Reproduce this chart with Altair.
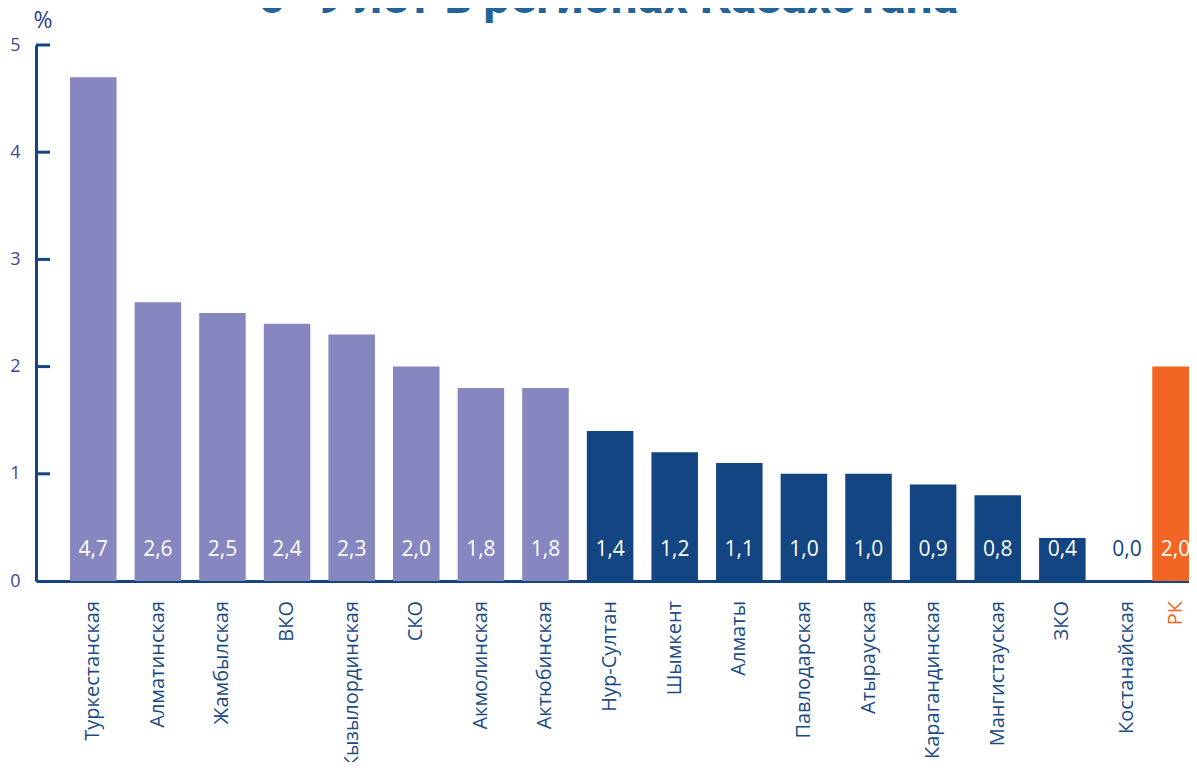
import altair as alt
import pandas as pd

regions = ["Туркестанская", "Алматинская", "Жамбылская", "ВКО", "Кызылординская",
           "СКО", "Акмолинская", "Актюбинская", "Нур-Султан", "Шымкент", "Алматы",
           "Павлодарская", "Атырауская", "Карагандинская", "Мангистауская", "ЗКО",
           "Костанайская", "РК"]
values = [4.7, 2.6, 2.5, 2.4, 2.3, 2.0, 1.8, 1.8, 1.4, 1.2, 1.1, 1.0, 1.0, 0.9, 0.8, 0.4, 0.0, 2.0]
groups = ["high"] * 8 + ["low"] * 9 + ["total"]
y_ticks = [0, 1, 2, 3, 4, 5]
title_text = "6–9 лет в регионах Казахстана"

df = pd.DataFrame({"region": regions, "value": values, "group": groups})
ticks_df = pd.DataFrame({"t": y_ticks[1:]})

W, H = 1153, 536
FONT = "Open Sans"
DARK = "#124581"
LAV = "#8686c0"
ORANGE = "#f26522"
RK_SHIFT = -16

xscale = alt.Scale(domain=regions, range=[0, 1212.8], paddingInner=0.28, paddingOuter=0.526)
xenc = alt.X("region:N", sort=regions, scale=xscale)


def layers(shift):
    if shift:
        src = alt.Chart(df).transform_filter("datum.region === 'РК'")
    else:
        src = alt.Chart(df).transform_filter("datum.region !== 'РК'")

    bars = src.mark_bar(xOffset=shift).encode(
        x=alt.X("region:N", sort=regions, scale=xscale,
                axis=alt.Axis(labels=False, ticks=False, title=None, domainColor=DARK, domainWidth=3)),
        y=alt.Y("value:Q", scale=alt.Scale(domain=[0, 5]),
                axis=alt.Axis(values=y_ticks, format="d", title=None, ticks=False, tickSize=0,
                              grid=False, domainColor=DARK, domainWidth=3, labelColor="#45449b",
                              labelFont=FONT, labelFontSize=18, labelPadding=16)),
        color=alt.Color("group:N", scale=alt.Scale(domain=["high", "low", "total"],
                                                   range=[LAV, DARK, ORANGE]), legend=None),
    )

    vals = src.transform_calculate(
        lbl="replace(format(datum.value, '.1f'), '.', ',')"
    ).mark_text(font=FONT, fontSize=21, baseline="middle", align="center", xOffset=shift).encode(
        x=xenc,
        y=alt.value(505),
        text="lbl:N",
        color=alt.condition("datum.value == 0", alt.value(DARK), alt.value("white")),
    )

    xlabels = src.mark_text(font=FONT, fontSize=20, angle=270, align="right",
                            baseline="middle", dy=shift).encode(
        x=xenc,
        y=alt.value(H + 20),
        text="region:N",
        color=alt.condition("datum.region === 'РК'", alt.value(ORANGE), alt.value("#1b4a85")),
    )
    return [bars, vals, xlabels]


inner_ticks = alt.Chart(ticks_df).mark_rule(color=DARK, strokeWidth=3).encode(
    y="t:Q", x=alt.value(0), x2=alt.value(14)
)

pct = alt.Chart(pd.DataFrame({"s": ["%"]})).mark_text(
    font=FONT, fontSize=23, color="#2f3f8f", align="center", baseline="middle"
).encode(x=alt.value(7), y=alt.value(-24), text="s:N")

title = alt.Chart(pd.DataFrame({"s": [title_text]})).mark_text(
    font="Roboto", fontSize=48, fontWeight="bold", color="#236398", align="center",
    baseline="alphabetic"
).encode(x=alt.value(572), y=alt.value(-32), text="s:N")

chart = alt.layer(*layers(0), *layers(RK_SHIFT), inner_ticks, pct, title).properties(
    width=W, height=H,
    padding={"left": 28, "top": 37, "right": 0, "bottom": 181},
    autosize=alt.AutoSizeParams(type="none"),
).configure_view(stroke=None)

chart.save("out.html", embed_options={"renderer": "svg", "actions": False})
